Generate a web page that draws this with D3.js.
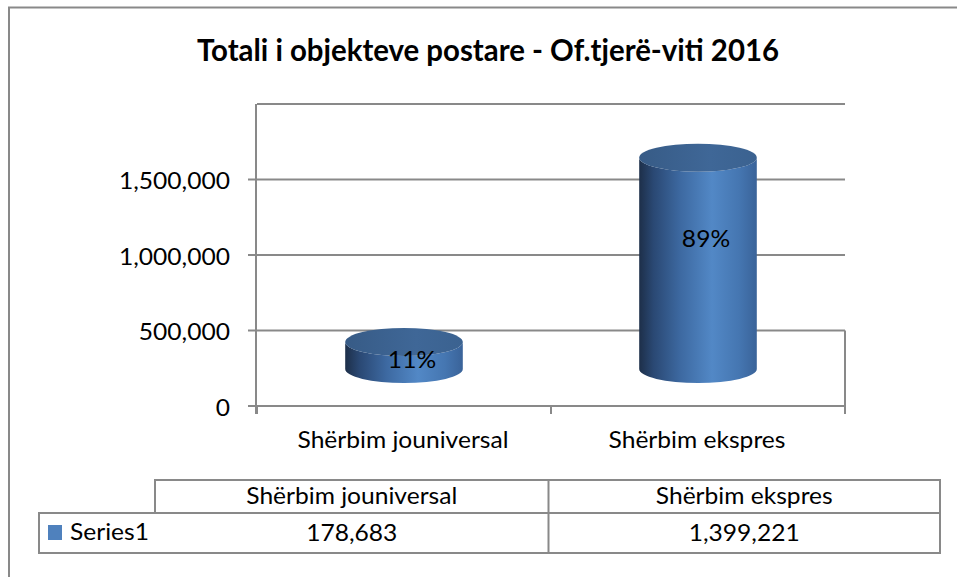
<!DOCTYPE html>
<html><head><meta charset="utf-8">
<script src="https://cdn.jsdelivr.net/npm/d3@7"></script>
<style>
body{margin:0;background:#fff}
svg{display:block}
text{font-family:Lato,"Open Sans",sans-serif;fill:#000}
</style>
</head><body>
<svg id="c" width="957" height="577"></svg>
<script>
// ---- data ----
const title = "Totali i objekteve postare - Of.tjerë-viti 2016";
const categories = ["Shërbim jouniversal", "Shërbim ekspres"];
const values = [178683, 1399221];
const seriesName = "Series1";
const yTicks = [0, 500000, 1000000, 1500000];
const yGrid = [0, 500000, 1000000, 1500000, 2000000];
const yMax = 2000000;

// ---- layout ----
const svg = d3.select("#c");
const W = 957, H = 577;
const plot = {left: 257, right: 845, top: 104, bottom: 406};
const depthShift = 37;      // 3D depth offset of bars vs back wall
const ry = 14;              // ellipse vertical radius
const grey = "#898989";
const fmt = d3.format(",");

const y = d3.scaleLinear().domain([0, yMax]).range([plot.bottom, plot.top]);
const x = d3.scaleBand().domain(categories).range([plot.left, plot.right]).padding(0);
const yBar = v => y(v) - depthShift;

// outer border (extends beyond the canvas on right / bottom)
svg.append("rect").attr("x", 9).attr("y", 7.5).attr("width", W + 20).attr("height", H + 20)
  .attr("fill", "none").attr("stroke", grey).attr("stroke-width", 2);

// defs: gradients
const defs = svg.append("defs");
const side = defs.append("linearGradient").attr("id", "side").attr("x1", 0).attr("x2", 1).attr("y1", 0).attr("y2", 0);
[[0, "#1d2f49"], [0.12, "#2a4873"], [0.35, "#3d69a1"], [0.62, "#5288c6"], [0.85, "#4576b1"], [1, "#3a6399"]]
  .forEach(([o, c]) => side.append("stop").attr("offset", o).attr("stop-color", c));
const topG = defs.append("linearGradient").attr("id", "topg").attr("x1", 0).attr("x2", 1).attr("y1", 0).attr("y2", 0);
[[0, "#375b86"], [0.6, "#3f6797"], [1, "#3b6290"]]
  .forEach(([o, c]) => topG.append("stop").attr("offset", o).attr("stop-color", c));

// gridlines (back wall)
svg.append("g").selectAll("line").data(yGrid).join("line")
  .attr("x1", plot.left).attr("x2", plot.right)
  .attr("y1", d => y(d)).attr("y2", d => y(d))
  .attr("stroke", grey).attr("stroke-width", 2);

// right wall edge near floor
svg.append("line").attr("x1", plot.right).attr("x2", plot.right)
  .attr("y1", y(500000)).attr("y2", y(0)).attr("stroke", grey).attr("stroke-width", 2);

// left axis line
svg.append("line").attr("x1", plot.left - 1).attr("x2", plot.left - 1)
  .attr("y1", plot.top).attr("y2", plot.bottom + 8).attr("stroke", grey).attr("stroke-width", 2);

// y ticks
svg.append("g").selectAll("line").data(yTicks).join("line")
  .attr("x1", plot.left - 9).attr("x2", plot.left)
  .attr("y1", d => y(d)).attr("y2", d => y(d))
  .attr("stroke", grey).attr("stroke-width", 2);

// category ticks
const edges = categories.map(c => x(c)).concat([plot.right]);
svg.append("g").selectAll("line").data(edges).join("line")
  .attr("x1", d => d).attr("x2", d => d)
  .attr("y1", plot.bottom).attr("y2", plot.bottom + 8)
  .attr("stroke", grey).attr("stroke-width", 2);

// cylinders
const total = d3.sum(values);
const barW = x.bandwidth() * 0.4;
const bars = svg.append("g").selectAll("g").data(categories.map((c, i) => ({c, v: values[i]}))).join("g");
bars.append("path")
  .attr("d", d => {
    const cx = x(d.c) + x.bandwidth() / 2, rx = barW / 2;
    const t = yBar(d.v), b = yBar(0);
    return `M${cx - rx},${t} L${cx - rx},${b} A${rx},${ry} 0 0 0 ${cx + rx},${b} L${cx + rx},${t} A${rx},${ry} 0 0 1 ${cx - rx},${t} Z`;
  })
  .attr("fill", "url(#side)");
bars.append("ellipse")
  .attr("cx", d => x(d.c) + x.bandwidth() / 2)
  .attr("cy", d => yBar(d.v))
  .attr("rx", barW / 2).attr("ry", ry)
  .attr("fill", "url(#topg)");

// ---- texts ----
const regSize = 23.5;
const allReg = [];

const lab = bars.append("text")
  .attr("x", d => x(d.c) + x.bandwidth() / 2 + 8)
  .attr("y", d => yBar(d.v * 0.66) + 17)
  .attr("text-anchor", "middle").attr("font-size", regSize)
  .text(d => Math.round(d.v / total * 100) + "%");
allReg.push(lab);

const yl = svg.append("g").selectAll("text").data(yTicks).join("text")
  .attr("x", 230).attr("y", d => y(d) + 9.5)
  .attr("text-anchor", "end").attr("font-size", regSize)
  .text(d => fmt(d));
allReg.push(yl);

const cl = svg.append("g").selectAll("text").data(categories).join("text")
  .attr("x", d => x(d) + x.bandwidth() / 2 - 1).attr("y", 448)
  .attr("text-anchor", "middle").attr("font-size", regSize)
  .text(d => d);
allReg.push(cl);

// data table
const tbl = {left: 39, c0: 155, top: 480, mid: 513, bottom: 553, right: 940};
const colEdges = [tbl.c0, (tbl.c0 + tbl.right) / 2 + 1, tbl.right];
const tg = svg.append("g").attr("fill", "none").attr("stroke", grey).attr("stroke-width", 2);
tg.append("rect").attr("x", tbl.c0).attr("y", tbl.top).attr("width", tbl.right - tbl.c0).attr("height", tbl.mid - tbl.top);
tg.append("rect").attr("x", tbl.left).attr("y", tbl.mid).attr("width", tbl.right - tbl.left).attr("height", tbl.bottom - tbl.mid);
tg.append("line").attr("x1", colEdges[1]).attr("x2", colEdges[1]).attr("y1", tbl.top).attr("y2", tbl.bottom);

const colC = categories.map((c, i) => (colEdges[i] + colEdges[i + 1]) / 2);
const th = svg.append("g").selectAll("text").data(categories).join("text")
  .attr("x", (d, i) => colC[i]).attr("y", 504)
  .attr("text-anchor", "middle").attr("font-size", regSize).text(d => d);
allReg.push(th);
const td = svg.append("g").selectAll("text").data(values).join("text")
  .attr("x", (d, i) => colC[i]).attr("y", 541)
  .attr("text-anchor", "middle").attr("font-size", regSize).text(d => fmt(d));
allReg.push(td);

svg.append("rect").attr("x", 48).attr("y", 525).attr("width", 14).attr("height", 15).attr("fill", "#4f81bd");
const sn = svg.append("text").attr("x", 70).attr("y", 540).attr("font-size", regSize).text(seriesName);
allReg.push(sn);

// width fitting to match the narrower original face
const refLen = cl.filter((d, i) => i === 0).node().getComputedTextLength();
const ratio = 211 / refLen;
allReg.forEach(sel => sel.each(function () {
  const l = this.getComputedTextLength();
  d3.select(this).attr("textLength", l * ratio).attr("lengthAdjust", "spacingAndGlyphs");
}));

// title
const tt = svg.append("text").attr("x", 488).attr("y", 61)
  .attr("text-anchor", "middle").attr("font-size", 30).attr("font-weight", "bold").text(title);
tt.attr("textLength", 582).attr("lengthAdjust", "spacingAndGlyphs");
</script>
</body></html>
